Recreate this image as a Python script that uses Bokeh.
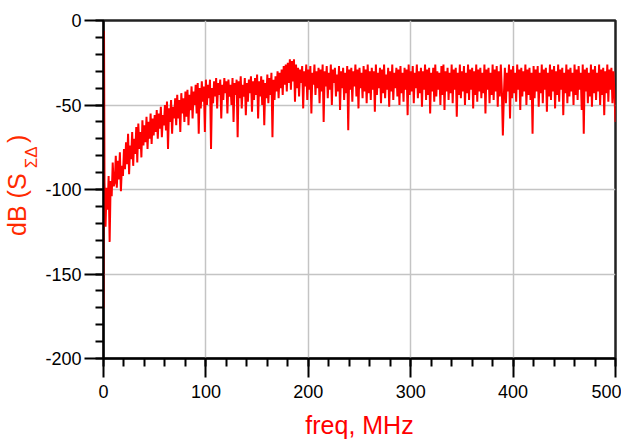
import math
from bokeh.plotting import figure
from bokeh.models import SingleIntervalTicker, FixedTicker, LinearAxis
from bokeh.embed import file_html
from bokeh.resources import INLINE

# ---- data (dB of S_SigmaDelta vs. freq in MHz) ----
freq_head = [0.0, 0.5]
db_head = [-170, -6]
# one value per MHz from 1 to 500 MHz
db_values = [
    -96, -122, -99, -112, -92, -131, -95, -104, -84, -98,
    -96, -80, -99, -83, -94, -78, -101, -86, -92, -76,
    -88, -72, -85, -67, -91, -74, -82, -66, -86, -70,
    -79, -63, -84, -61, -76, -66, -81, -59, -74, -62,
    -72, -57, -76, -60, -70, -55, -73, -58, -68, -56,
    -66, -53, -70, -55, -64, -51, -69, -56, -62, -50,
    -65, -48, -76, -52, -60, -47, -67, -51, -58, -46,
    -62, -44, -58, -47, -66, -43, -55, -46, -60, -42,
    -57, -41, -62, -44, -53, -39, -58, -42, -50, -38,
    -55, -37, -67, -40, -52, -36, -48, -39, -66, -35,
    -50, -38, -46, -35, -76, -40, -49, -36, -45, -34,
    -52, -37, -44, -35, -58, -38, -47, -34, -43, -36,
    -55, -35, -45, -38, -50, -34, -60, -37, -44, -35,
    -69, -36, -46, -33, -52, -38, -45, -34, -56, -37,
    -48, -35, -43, -33, -54, -36, -47, -34, -44, -32,
    -58, -36, -45, -33, -50, -35, -62, -37, -46, -32,
    -49, -34, -44, -31, -69, -35, -47, -33, -42, -30,
    -46, -31, -40, -29, -44, -27, -38, -26, -42, -25,
    -37, -23, -41, -24, -36, -23, -48, -26, -40, -28,
    -45, -29, -37, -27, -52, -30, -39, -26, -47, -29,
    -41, -27, -55, -31, -38, -26, -44, -30, -40, -28,
    -49, -29, -42, -26, -60, -30, -39, -27, -46, -31,
    -41, -26, -50, -29, -37, -28, -45, -32, -42, -27,
    -53, -30, -40, -28, -47, -31, -43, -27, -65, -29,
    -41, -28, -48, -30, -39, -26, -45, -29, -52, -28,
    -40, -31, -46, -27, -42, -29, -49, -26, -43, -30,
    -47, -28, -41, -30, -54, -26, -44, -31, -40, -28,
    -49, -29, -43, -26, -46, -32, -41, -28, -51, -30,
    -42, -26, -47, -31, -40, -28, -45, -29, -50, -27,
    -43, -31, -48, -28, -41, -29, -56, -26, -44, -30,
    -42, -27, -49, -31, -40, -26, -46, -30, -43, -28,
    -51, -30, -41, -26, -47, -29, -44, -28, -55, -31,
    -42, -28, -48, -26, -45, -30, -41, -31, -50, -27,
    -44, -26, -53, -30, -42, -28, -47, -31, -43, -26,
    -49, -29, -41, -28, -57, -31, -44, -26, -46, -30,
    -42, -27, -50, -31, -43, -26, -47, -29, -41, -28,
    -52, -30, -44, -26, -48, -29, -42, -28, -46, -31,
    -43, -26, -55, -29, -41, -28, -49, -31, -44, -26,
    -47, -29, -42, -27, -51, -30, -45, -26, -41, -68,
    -44, -28, -49, -31, -42, -26, -58, -29, -46, -27,
    -43, -31, -48, -26, -41, -29, -53, -28, -45, -30,
    -42, -26, -50, -29, -44, -28, -47, -31, -67, -27,
    -46, -29, -42, -27, -51, -31, -43, -26, -49, -29,
    -41, -28, -54, -31, -45, -26, -47, -29, -42, -27,
    -52, -30, -44, -26, -48, -29, -41, -28, -56, -31,
    -43, -26, -49, -29, -45, -28, -42, -31, -50, -26,
    -44, -29, -47, -27, -41, -31, -53, -26, -67, -29,
    -42, -28, -49, -31, -45, -26, -51, -29, -43, -27,
    -47, -31, -42, -26, -50, -29, -44, -28, -56, -30,
    -43, -26, -48, -29, -41, -28, -49, -30, -44, -60,
]
freq = freq_head + [float(f) for f in range(1, len(db_values) + 1)]
db = db_head + db_values

x_ticks = [0, 100, 200, 300, 400, 500]
x_tick_labels = ["0", "100", "200", "300", "400", "500"]
y_ticks = [0, -50, -100, -150, -200]
y_tick_labels = ["0", "-50", "-100", "-150", "-200"]

x_title = "freq, MHz"
y_title_main = "dB (S"
y_title_sub = "\u03a3\u0394"
y_title_end = ")"

FONT = "Liberation Sans"
RED = "#ff0000"
TITLE_RED = "#ff2a00"

p = figure(width=621, height=446, x_range=(0, 500), y_range=(-200, 0),
           output_backend="svg", toolbar_location=None,
           min_border_left=95, min_border_right=6,
           min_border_top=20, min_border_bottom=88,
           background_fill_color="white", border_fill_color="white")

p.line(freq, db, line_color=RED, line_width=2)

xt = SingleIntervalTicker(interval=100, num_minor_ticks=5)
yt = SingleIntervalTicker(interval=50, num_minor_ticks=5)
p.xaxis.ticker = xt
p.yaxis.ticker = yt
p.xgrid.ticker = xt
p.ygrid.ticker = yt
p.xaxis.major_label_overrides = dict(zip(x_ticks, x_tick_labels))
p.yaxis.major_label_overrides = dict(zip(y_ticks, y_tick_labels))

for ax in (p.xaxis[0], p.yaxis[0]):
    ax.axis_line_color = "black"
    ax.axis_line_width = 2
    ax.major_tick_line_color = "black"
    ax.major_tick_line_width = 2
    ax.minor_tick_line_color = "black"
    ax.minor_tick_line_width = 2
    ax.major_tick_in = 0
    ax.minor_tick_in = 0
    ax.major_tick_out = 19
    ax.minor_tick_out = 8
    ax.major_label_text_font = FONT
    ax.major_label_text_font_size = "18px"
    ax.major_label_text_color = "black"
p.xaxis.major_label_standoff = 7
p.yaxis.major_label_standoff = 3

# x title
p.xaxis.axis_label = x_title
p.xaxis.axis_label_text_font = FONT
p.xaxis.axis_label_text_font_size = "25px"
p.xaxis.axis_label_text_font_style = "normal"
p.xaxis.axis_label_text_color = RED
p.xaxis.axis_label_standoff = 10

# y title: drawn as tick labels of two label-only axes (main text + subscript)
def label_axis(ticks, labels, size, standoff):
    ax = LinearAxis(ticker=FixedTicker(ticks=ticks),
                    major_label_overrides=dict(zip(ticks, labels)),
                    major_label_orientation="vertical",
                    major_label_standoff=standoff,
                    major_label_text_font=FONT,
                    major_label_text_font_size=size,
                    major_label_text_color=TITLE_RED,
                    axis_line_color=None, major_tick_line_color=None,
                    minor_tick_line_color=None, major_tick_out=0,
                    major_tick_in=0, minor_tick_out=0, minor_tick_in=0)
    return ax

sub_axis = label_axis([-81.0], [y_title_sub], "17px", 1)
main_axis = label_axis([-109.0, -70.0], [y_title_main, y_title_end], "25px", -12)
p.add_layout(sub_axis, "left")
p.add_layout(main_axis, "left")

for g in (p.xgrid[0], p.ygrid[0]):
    g.grid_line_color = "#c4c4c4"
    g.grid_line_width = 1.5

p.outline_line_color = "#222222"
p.outline_line_width = 2.5

open("out.html", "w").write(file_html(p, INLINE))
